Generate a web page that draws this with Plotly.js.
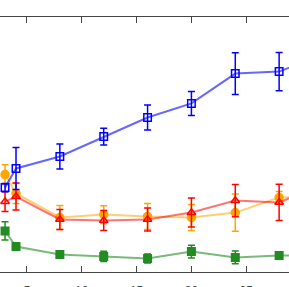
<!DOCTYPE html>
<html>
<head>
<meta charset="utf-8">
<script src="https://cdn.plot.ly/plotly-3.0.1.min.js"></script>
<style>html,body{margin:0;padding:0;background:#fff;}#chart{width:289px;height:287px;}</style>
</head>
<body>
<div id="chart"></div>
<script>
const xValues = [3, 4, 8, 12, 16, 20, 24, 28, 32];
const xTicks = [5, 10, 15, 20, 25];
const xTickLabels = ['5', '10', '15', '20', '25'];

const blueValues = [33.1, 40.6, 45.3, 53.1, 60.6, 66.1, 77.8, 78.6, 85.3];
const blueErrors = [1.6, 8.2, 4.9, 3.3, 4.9, 4.7, 8.2, 7.5, 7.0];

const orangeValues = [38.2, 30.8, 21.4, 22.5, 21.8, 21.4, 23.3, 29.2, 29.6];
const orangeErrors = [3.9, 3.9, 4.7, 3.5, 5.1, 5.1, 7.3, 2.4, 3.0];

const redValues = [27.6, 29.6, 20.6, 20.2, 20.6, 23.3, 28.0, 27.3, 34.3];
const redErrors = [3.9, 5.3, 3.9, 3.9, 4.5, 5.7, 6.3, 7.1, 6.0];

const greenValues = [16.1, 10.0, 6.9, 6.1, 5.3, 8.0, 5.7, 6.5, 6.5];
const greenErrors = [3.6, 0.8, 0.8, 2.0, 1.8, 2.5, 2.5, 0.8, 1.0];

function series(y, err, lineColor, markerColor, symbol, size) {
  return {
    x: xValues, y: y, type: 'scatter', mode: 'lines+markers',
    line: {color: lineColor, width: 2},
    marker: {symbol: symbol, size: size, color: markerColor, line: {color: markerColor, width: 1.5}},
    error_y: {type: 'data', array: err, visible: true, color: markerColor, thickness: 1.5, width: 3.5},
    cliponaxis: true, showlegend: false
  };
}

const data = [
  series(greenValues, greenErrors, 'rgba(34,139,34,0.6)', '#228B22', 'square', 7.5),
  series(orangeValues, orangeErrors, 'rgba(255,165,0,0.55)', '#FFA500', 'circle', 8),
  series(redValues, redErrors, 'rgba(255,0,0,0.55)', '#FF0000', 'triangle-up-open', 7.5),
  series(blueValues, blueErrors, 'rgba(0,0,255,0.6)', '#0000FF', 'square-open', 7.5)
];

const layout = {
  width: 289, height: 287,
  margin: {l: 0, r: 0, t: 17, b: 15, pad: 0},
  paper_bgcolor: '#fff', plot_bgcolor: '#fff',
  font: {family: 'Liberation Sans, Arial, sans-serif', size: 12, color: '#444'},
  xaxis: {
    range: [2.54, 28.9], tickvals: xTicks, ticktext: xTickLabels,
    showline: true, linecolor: '#444', linewidth: 1, mirror: 'ticks',
    ticks: 'inside', ticklen: 6, tickcolor: '#444', tickwidth: 1,
    showgrid: false, zeroline: false, ticklabelstandoff: 8
  },
  yaxis: {range: [0, 100], visible: false, showgrid: false, zeroline: false}
};

Plotly.newPlot('chart', data, layout, {displayModeBar: false, staticPlot: true});
</script>
</body>
</html>
